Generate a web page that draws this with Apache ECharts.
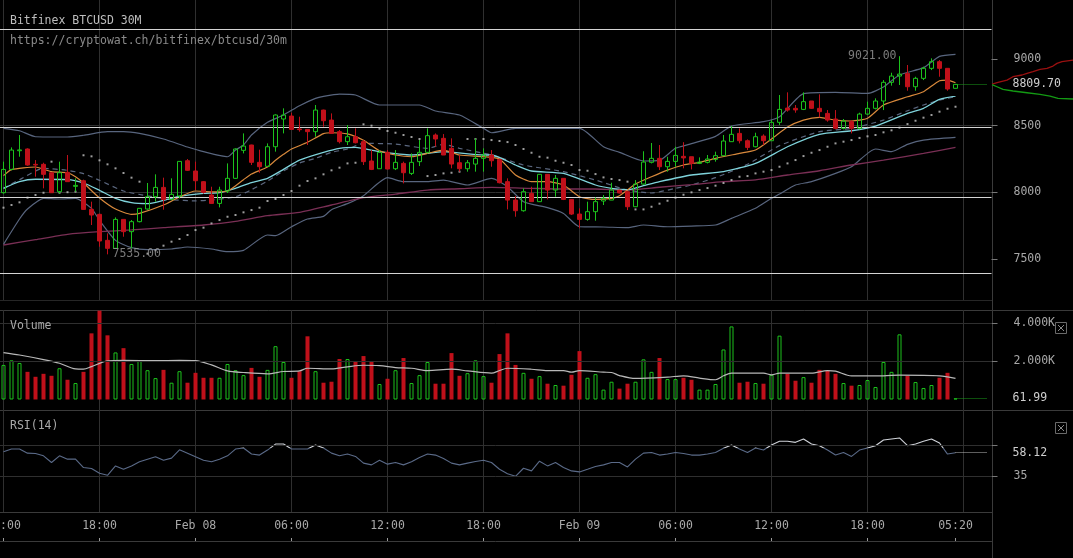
<!DOCTYPE html>
<html>
<head>
<meta charset="utf-8">
<script src="https://cdn.jsdelivr.net/npm/echarts@6/dist/echarts.min.js"></script>
<style>
html,body{margin:0;padding:0;background:#000;overflow:hidden;}
#c{width:1073px;height:558px;}
</style>
</head>
<body>
<div id="c"></div>
<script>
// ---------------- DATA ----------------
// 30-minute candles, Feb 07 12:00 .. Feb 09 23:30 (120 candles)
const opens = [
 7997,8172,8312,8325,8210,8210,8147,8005,8150,8045,
 8087,7872,7835,7640,7580,7797,7705,7780,7875,7967,
 8037,7947,7972,8237,8160,8080,7980,7917,8010,8105,
 8315,8355,8225,8195,8342,8550,8572,8475,8472,8455,
 8617,8542,8455,8380,8417,8380,8235,8177,8300,8177,
 8217,8142,8230,8300,8430,8405,8330,8222,8177,8212,
 8255,8280,8247,8080,7942,7862,7992,7930,8135,8017,
 8105,7947,7837,7797,7855,7935,7942,8017,8005,7892,
 8062,8225,8255,8192,8232,8270,8267,8217,8225,8247,
 8275,8380,8442,8387,8342,8422,8387,8525,8632,8630,
 8622,8685,8630,8592,8550,8480,8530,8480,8587,8630,
 8685,8825,8872,8892,8792,8855,8930,8980,8930,8780];
const closes = [
 8172,8317,8318,8205,8205,8135,7997,8147,8080,8052,
 7872,7830,7635,7580,7797,7705,7780,7880,7967,8037,
 7947,7985,8232,8165,8087,8000,7917,8017,8105,8325,
 8347,8225,8192,8342,8580,8580,8472,8470,8455,8617,
 8537,8442,8380,8417,8372,8230,8172,8300,8175,8225,
 8147,8225,8300,8425,8400,8280,8212,8177,8222,8255,
 8280,8237,8072,7942,7862,8005,7930,8135,8017,8105,
 7947,7837,7797,7855,7930,7955,8017,7995,7892,8062,
 8227,8255,8192,8232,8277,8258,8217,8227,8250,8275,
 8385,8435,8387,8337,8417,8387,8525,8622,8617,8618,
 8680,8630,8605,8542,8480,8535,8480,8587,8630,8685,
 8825,8872,8887,8792,8855,8930,8980,8930,8775,8809.70];
const lows = [
 7990,8165,8267,8200,8117,8030,7997,7992,8080,8005,
 7870,7755,7592,7535,7575,7667,7580,7775,7870,7930,
 7870,7940,7955,8160,8017,7990,7915,7887,7995,8100,
 8292,8205,8147,8190,8305,8442,8470,8455,8355,8417,
 8492,8440,8367,8355,8367,8205,8167,8177,8172,8167,
 8067,8130,8197,8292,8342,8280,8180,8155,8155,8155,
 8155,8192,8067,7872,7817,7855,7930,7928,7947,7967,
 7942,7830,7730,7787,7787,7905,7942,7992,7867,7890,
 8058,8217,8167,8155,8192,8180,8172,8212,8217,8230,
 8275,8380,8367,8317,8337,8355,8387,8505,8605,8597,
 8617,8625,8562,8530,8472,8472,8442,8472,8580,8622,
 8617,8800,8805,8762,8762,8842,8917,8867,8762,8778];
const highs = [
 8230,8337,8430,8330,8242,8222,8150,8230,8280,8105,
 8095,7930,7840,7692,7812,7797,7792,7882,8070,8135,
 8110,8105,8235,8250,8230,8085,8042,8042,8217,8330,
 8442,8357,8320,8367,8585,8630,8597,8567,8475,8655,
 8620,8592,8467,8505,8480,8392,8317,8317,8317,8317,
 8230,8292,8392,8480,8442,8437,8405,8280,8242,8405,
 8330,8317,8250,8105,7972,8030,8042,8137,8137,8130,
 8107,7950,7880,7930,7962,7980,8072,8020,8007,8092,
 8308,8370,8355,8267,8342,8376,8267,8262,8280,8305,
 8430,8497,8480,8397,8447,8435,8542,8730,8750,8655,
 8750,8685,8735,8617,8617,8550,8542,8597,8680,8705,
 8842,8897,9021,8955,8867,8942,9005,8992,8930,8812];
const volumes = [
 1819,2061,1922,1455,1195,1351,1247,1645,1039,866,
 1455,3481,4676,3377,2477,2702,1870,2044,1541,1126,
 1559,883,1490,883,1403,1143,1143,1143,1870,1541,
 1282,1663,1195,1559,2806,1974,1143,1490,3325,1490,
 883,935,2130,2130,2026,2286,1992,814,1091,1541,
 2182,866,1282,1974,831,831,2442,1247,1386,2061,
 1230,883,2390,3481,1819,1403,1091,1230,831,762,
 727,1299,2546,1143,1334,520,935,572,831,935,
 2113,1455,2182,1074,1074,1143,1039,520,520,814,
 2633,3845,883,935,866,831,1299,3360,1351,987,
 1178,883,1559,1507,1351,866,727,762,1022,658,
 1974,1455,3429,1247,918,606,762,1143,1403,61.99];
const rsi = [
 59,61.7,61.7,57.7,57.4,55.1,48.5,55.1,51.8,51.8,
 43.6,42.6,38,36,45.2,41.9,45.2,49.2,51.8,54.1,
 50.8,52.8,61,57.7,54.1,50.8,49.2,51.8,55.1,61.7,
 62.7,56.8,55.8,60.7,66.6,66.6,61.7,61.7,61.7,65.7,
 62.7,57.7,55.1,56.8,54.5,47.9,46.2,50.8,46.9,48.5,
 46.2,49.2,53.5,56.8,55.8,52.5,47.9,46.2,47.9,49.5,
 50.8,48.5,41.9,37.6,35,42.9,40.3,49.8,45.2,48.5,
 43.6,40.3,39.3,41.9,44.6,46.2,48.5,48.5,44.2,51.8,
 57.7,58.4,55.8,56.8,58.4,57.4,55.8,55.8,56.8,58.4,
 62.4,65.7,61.7,58.4,62.7,60.7,65.7,69.3,69.3,68.3,
 71.6,66.6,65,60.7,55.8,58.4,54.5,60.7,62.7,65,
 70.6,71.6,72.6,65,66.6,69.3,71.6,67.6,56.8,58.12];
// Parabolic SAR dots
const sar = [
 7885,7905,7925,7960,7980,7997,8230,7997,8001,8005,
 8278,8270,8240,8210,8180,8145,8110,8080,7540,7565,
 7600,7630,7650,7680,7717,7735,7767,7792,7817,7830,
 7850,7867,7885,7935,7950,7980,8010,8050,8085,8105,
 8135,8165,8185,8217,8222,8510,8500,8477,8460,8447,
 8430,8415,8400,8122,8130,8142,8147,8155,8400,8400,
 8400,8392,8385,8377,8355,8325,8297,8267,8260,8237,
 8222,8205,8167,8162,8137,8112,8100,8092,8080,7872,
 7872,7892,7915,7937,7960,7982,8000,8017,8032,8050,
 8070,8092,8117,8122,8142,8155,8167,8192,8217,8242,
 8272,8297,8317,8342,8367,8380,8392,8408,8420,8430,
 8450,8465,8485,8512,8537,8560,8580,8605,8627,8642];
// overlay lines, sampled [candle index, price]
const emaFast = [[0,8125],[1,8170],[4,8190],[6,8155],[8,8147],[9,8117],[10,8070],[12,7958],[14,7875],[16,7835],[17,7842],[20,7905],[22,7965],[24,8010],[26,8003],[28,8010],[30,8095],[31,8137],[33,8190],[34,8240],[35,8285],[36,8325],[38,8375],[40,8440],[41,8447],[43,8438],[45,8390],[47,8312],[49,8280],[51,8267],[53,8292],[55,8317],[57,8280],[60,8267],[62,8250],[64,8130],[66,8080],[68,8080],[70,8055],[72,7967],[74,7947],[76,7955],[77,7975],[79,8062],[81,8117],[83,8167],[85,8205],[87,8225],[89,8255],[92,8292],[94,8317],[96,8400],[98,8490],[100,8542],[102,8562],[104,8542],[106,8535],[108,8555],[110,8655],[113,8717],[115,8755],[117,8837],[118,8842],[119,8822]];
const emaSlow = [[0,8030],[2,8080],[4,8098],[8,8096],[10,8070],[12,8015],[14,7955],[16,7922],[18,7915],[20,7940],[22,7970],[25,7992],[27,7998],[29,8030],[31,8073],[33,8105],[35,8172],[37,8242],[40,8300],[42,8330],[44,8337],[47,8305],[51,8280],[55,8305],[60,8280],[61,8280],[64,8205],[66,8160],[70,8142],[74,8055],[76,8030],[78,8020],[80,8050],[82,8080],[86,8130],[90,8155],[94,8217],[98,8342],[102,8435],[106,8462],[109,8497],[113,8592],[115,8630],[117,8697],[119,8722]];
const bbMid = [[0,8030],[2,8095],[5,8180],[8,8165],[10,8140],[12,8090],[15,8010],[18,7973],[21,7945],[24,7936],[26,7942],[29,7967],[31,8020],[33,8085],[35,8160],[37,8220],[39,8255],[41,8300],[43,8325],[45,8367],[49,8362],[53,8330],[55,8360],[57,8330],[61,8280],[65,8205],[70,8155],[74,8092],[78,8017],[81,7995],[84,8030],[86,8055],[89,8110],[93,8210],[97,8350],[102,8455],[106,8480],[110,8542],[113,8612],[115,8655],[117,8692],[119,8717]];
const bbUpper = [[0,8480],[2,8462],[4,8417],[8,8415],[10,8428],[13,8455],[15,8455],[17,8442],[20,8400],[23,8340],[25,8305],[28,8267],[29,8317],[30,8355],[31,8430],[33,8525],[35,8580],[37,8650],[39,8705],[40,8720],[42,8737],[44,8730],[47,8655],[52,8655],[54,8610],[57,8580],[60,8480],[61,8447],[64,8480],[72,8480],[75,8342],[77,8300],[80,8235],[82,8240],[84,8330],[86,8365],[89,8420],[91,8497],[95,8530],[97,8567],[100,8740],[104,8750],[108,8742],[110,8790],[112,8880],[115,8935],[117,9020],[119,9035]];
const bbLower = [[0,7610],[2,7800],[3,7875],[5,7955],[7,7950],[9,7955],[11,7880],[12,7790],[14,7640],[16,7585],[18,7570],[21,7575],[23,7590],[26,7575],[28,7555],[30,7565],[33,7680],[34,7675],[36,7742],[38,7800],[40,7820],[41,7870],[43,7915],[45,7975],[48,8110],[50,8080],[53,8080],[55,8092],[58,8055],[61,8105],[63,8042],[65,7930],[68,7885],[70,7842],[72,7742],[75,7740],[78,7735],[80,7755],[83,7742],[86,7747],[89,7755],[91,7805],[94,7880],[96,7955],[97,7987],[99,8055],[101,8080],[104,8142],[106,8192],[109,8325],[111,8305],[113,8360],[115,8392],[119,8412]];
const maLong = [[0,7605],[4,7645],[8,7685],[12,7705],[16,7718],[20,7735],[25,7755],[29,7782],[33,7825],[37,7850],[41,7905],[45,7960],[49,7987],[53,8017],[57,8027],[61,8037],[66,8030],[70,8025],[74,8025],[78,8017],[82,8038],[86,8058],[90,8080],[94,8094],[98,8130],[102,8162],[106,8205],[110,8242],[115,8292],[119,8337]];
const volMA = [[0,2470],[2,2340],[5,2100],[7,1905],[9,1610],[10,1593],[11,1730],[13,2030],[15,2060],[19,2044],[22,2060],[24,2044],[26,1819],[28,1507],[30,1420],[33,1351],[35,1472],[37,1507],[38,1645],[41,1611],[43,1720],[45,1801],[47,1784],[49,1680],[51,1645],[53,1524],[56,1593],[58,1507],[61,1386],[62,1524],[63,1645],[66,1593],[68,1524],[70,1524],[71,1437],[72,1524],[75,1437],[76,1420],[77,1260],[79,1108],[83,1178],[85,1247],[87,1126],[89,1039],[90,1247],[91,1386],[95,1386],[96,1299],[97,1386],[101,1386],[103,1524],[104,1489],[106,1247],[110,1247],[112,1282],[117,1247],[119,1108]];
// horizontal level lines drawn on the price pane
const levelLines = [9225, 8487.5, 7962.5, 7392.5];
// order-book depth at the right edge: [cumulative size, price]
const askDepth = [[0,8812],[1,8817],[6,8825],[15,8842],[21,8867],[30,8880],[35,8892],[41,8905],[48,8922],[55,8930],[61,8947],[65,8967],[70,8980],[71,8992],[81,8992]];
const bidDepth = [[0,8808],[5,8792],[11,8772],[21,8760],[35,8747],[48,8735],[58,8722],[66,8705],[81,8700]];
// axis ticks / labels
const priceTicks = [7500, 8000, 8500, 9000];
const volTicks = [2000, 4000];
const rsiTicks = [35, 65];
const rsiLabels = [35];
const rsiHighlight = 63;   // RSI drawn lighter above this
const xTickLabels = ['12:00','18:00','Feb 08','06:00','12:00','18:00','Feb 09','06:00','12:00','18:00'];
const lastTimeLabel = '05:20';
const titleText = 'Bitfinex BTCUSD 30M';
const subTitleText = 'https://cryptowat.ch/bitfinex/btcusd/30m';

// ---------------- CHART ----------------
const SLOTS = 124;
const categories = Array.from({length: SLOTS}, (_, i) => String(i));
const last = closes.length - 1;
const MONO = '"DejaVu Sans Mono", "Liberation Mono", monospace';
const FS = 11.5;
const GRID_C = '#2f2f2f';
const GREEN = '#1cc21c';
const RED = '#c0101a';
const isUp = i => closes[i] >= opens[i];

const RSI_TOP = 410, RSI_H = 102;
const candleData = opens.map((o, i) => [o, closes[i], lows[i], highs[i]]);
const volData = volumes.map((v, i) => ({
  value: v,
  itemStyle: isUp(i) ? {color: 'rgba(0,0,0,0)', borderColor: GREEN, borderWidth: 1}
                     : {color: RED, borderColor: RED, borderWidth: 0}
}));
const sarData = sar.map((v, i) => [i, v]);
const hiIdx = highs.indexOf(Math.max(...highs));
const loIdx = lows.indexOf(Math.min(...lows));

const splitX = i => i % 12 === 0;
const labelX = i => (i % 12 === 0 && i < 120) || i === last;

function catAxis(gridIndex) {
  return {
    type: 'category', gridIndex, data: categories, boundaryGap: true,
    axisLine: {show: false}, axisTick: {show: false}, axisLabel: {show: false},
    splitLine: {show: true, interval: splitX, alignWithLabel: true, lineStyle: {color: GRID_C, width: 1}}
  };
}
const axisLabelStyle = {color: '#a8a8a8', fontFamily: MONO, fontSize: FS};

function curLine(xCat, val, color, text) {
  return [
    {coord: [categories[xCat], val], lineStyle: {type: 'dotted', color, width: 1},
     label: {show: true, position: 'end', distance: 25, formatter: text, color: '#cfcfcf', fontFamily: MONO, fontSize: FS}},
    {coord: [categories[SLOTS - 1], val]}
  ];
}
const hiOff = (100 - rsiHighlight) / 100;
const rsiColor = {type: 'linear', x: 0, y: RSI_TOP, x2: 0, y2: RSI_TOP + RSI_H, global: true,
  colorStops: [{offset: 0, color: '#cfd2d8'}, {offset: hiOff, color: '#cfd2d8'},
               {offset: hiOff, color: '#5a6a88'}, {offset: 1, color: '#5a6a88'}]};

const option = {
  backgroundColor: '#000',
  animation: false,
  title: [
    {text: titleText, subtext: subTitleText, left: 10, top: 14, padding: 0, itemGap: 6,
     textStyle: {color: '#bdbdbd', fontFamily: MONO, fontSize: FS, fontWeight: 'normal', lineHeight: 14},
     subtextStyle: {color: '#8a8a8a', fontFamily: MONO, fontSize: FS, lineHeight: 14}},
    {text: 'Volume', left: 10, top: 319, padding: 0,
     textStyle: {color: '#a8a8a8', fontFamily: MONO, fontSize: FS, fontWeight: 'normal', lineHeight: 14}},
    {text: 'RSI(14)', left: 10, top: 419, padding: 0,
     textStyle: {color: '#a8a8a8', fontFamily: MONO, fontSize: FS, fontWeight: 'normal', lineHeight: 14}}
  ],
  grid: [
    {left: -0.5, width: 992, top: 0, height: 300, outerBoundsMode: 'none'},
    {left: -0.5, width: 992, top: 310, height: 100, outerBoundsMode: 'none'},
    {left: -0.5, width: 992, top: RSI_TOP, height: RSI_H, outerBoundsMode: 'none'},
    {left: -0.5, width: 992, top: 512, height: 29, outerBoundsMode: 'none'},
    {left: 992, width: 81, top: 0, height: 300, outerBoundsMode: 'none'}
  ],
  xAxis: [
    catAxis(0), catAxis(1), catAxis(2),
    {type: 'category', gridIndex: 3, data: categories, boundaryGap: true, position: 'bottom',
     axisLine: {show: true, lineStyle: {color: '#3a3a3a'}},
     axisTick: {show: true, inside: true, length: 3, interval: labelX, alignWithLabel: true, lineStyle: {color: '#9a9a9a'}},
     axisLabel: {show: true, inside: true, margin: 9, interval: labelX,
       formatter: (v, idx) => idx === last ? lastTimeLabel : xTickLabels[idx / 12],
       color: '#a8a8a8', fontFamily: MONO, fontSize: FS},
     splitLine: {show: false}},
    {type: 'value', gridIndex: 4, min: 0, max: 81, show: false}
  ],
  yAxis: [
    {type: 'value', gridIndex: 0, position: 'right', min: 7192.5, max: 9442.5,
     axisLine: {show: false},
     axisTick: {show: true, customValues: priceTicks, length: 6, lineStyle: {color: '#777'}},
     axisLabel: Object.assign({customValues: priceTicks, margin: 22, formatter: v => String(v)}, axisLabelStyle),
     splitLine: {show: true, showMinLine: false, showMaxLine: false, lineStyle: {color: GRID_C}}},
    {type: 'value', gridIndex: 1, position: 'right', min: -553, max: 4710,
     axisLine: {show: false},
     axisTick: {show: true, customValues: volTicks, length: 6, lineStyle: {color: '#777'}},
     axisLabel: Object.assign({customValues: volTicks, margin: 22, formatter: v => (v / 1000).toFixed(3) + 'K'}, axisLabelStyle),
     splitLine: {show: false}},
    {type: 'value', gridIndex: 2, position: 'right', min: 0, max: 100,
     axisLine: {show: false},
     axisTick: {show: true, customValues: rsiTicks, length: 6, lineStyle: {color: '#777'}},
     axisLabel: Object.assign({customValues: rsiLabels, margin: 22, formatter: v => String(v)}, axisLabelStyle),
     splitLine: {show: false}},
    {type: 'value', gridIndex: 3, min: 0, max: 1, show: false},
    {type: 'value', gridIndex: 4, min: 7192.5, max: 9442.5, show: false}
  ],
  series: [
    {type: 'candlestick', xAxisIndex: 0, yAxisIndex: 0, data: candleData, barWidth: 4.5, z: 5,
     itemStyle: {color: 'rgba(0,0,0,0)', color0: RED, borderColor: GREEN, borderColor0: RED, borderWidth: 1},
     markLine: {silent: true, symbol: ['none', 'none'], animation: false,
       data: levelLines.map(v => ({yAxis: v, lineStyle: {color: '#d4d4d4', width: 1.2, type: 'solid'}, label: {show: false}}))
         .concat([curLine(last, closes[last], '#1a9e1a', closes[last].toFixed(2))])}},
    {type: 'line', xAxisIndex: 0, yAxisIndex: 0, data: bbUpper, showSymbol: false, smooth: 0.2, z: 2, lineStyle: {color: '#58657e', width: 1.2}},
    {type: 'line', xAxisIndex: 0, yAxisIndex: 0, data: bbLower, showSymbol: false, smooth: 0.2, z: 2, lineStyle: {color: '#58657e', width: 1.2}},
    {type: 'line', xAxisIndex: 0, yAxisIndex: 0, data: bbMid, showSymbol: false, smooth: 0.2, z: 2, lineStyle: {color: '#5b677f', width: 1.2, type: [5, 4]}},
    {type: 'line', xAxisIndex: 0, yAxisIndex: 0, data: maLong, showSymbol: false, smooth: 0.2, z: 2, lineStyle: {color: '#7a2f55', width: 1.3}},
    {type: 'line', xAxisIndex: 0, yAxisIndex: 0, data: emaSlow, showSymbol: false, smooth: 0.2, z: 3, lineStyle: {color: '#7fd3db', width: 1.3}},
    {type: 'line', xAxisIndex: 0, yAxisIndex: 0, data: emaFast, showSymbol: false, smooth: 0.2, z: 3, lineStyle: {color: '#d8893c', width: 1.2}},
    {type: 'scatter', xAxisIndex: 0, yAxisIndex: 0, data: sarData, symbol: 'rect', symbolSize: 2, z: 4,
     itemStyle: {color: '#c4c4c4'}},
    {type: 'scatter', xAxisIndex: 0, yAxisIndex: 0, symbolSize: 0, z: 6, silent: true,
     data: [
       {value: [hiIdx, highs[hiIdx]], label: {show: true, position: 'left', distance: 3, formatter: highs[hiIdx].toFixed(2)}},
       {value: [loIdx, lows[loIdx]], label: {show: true, position: 'right', distance: 5, formatter: lows[loIdx].toFixed(2)}}
     ],
     label: {color: '#9a9a9a', fontFamily: MONO, fontSize: FS}},
    {type: 'bar', xAxisIndex: 1, yAxisIndex: 1, data: volData, barWidth: 4, z: 3,
     markLine: {silent: true, symbol: ['none', 'none'], animation: false,
       data: volTicks.map(v => ({yAxis: v, lineStyle: {color: GRID_C, width: 1, type: 'solid'}, label: {show: false}}))
         .concat([curLine(last, volumes[last], '#1a9e1a', volumes[last].toFixed(2))])}},
    {type: 'line', xAxisIndex: 1, yAxisIndex: 1, data: volMA, showSymbol: false, smooth: 0.3, z: 4,
     lineStyle: {color: '#b8b8b8', width: 1.2}},
    {type: 'line', xAxisIndex: 2, yAxisIndex: 2, data: rsi, showSymbol: false, z: 4,
     lineStyle: {width: 1.1, color: rsiColor},
     markLine: {silent: true, symbol: ['none', 'none'], animation: false,
       data: rsiTicks.map(v => ({yAxis: v, lineStyle: {color: GRID_C, width: 1, type: 'solid'}, label: {show: false}}))
         .concat([curLine(last, rsi[last], '#bdbdbd', rsi[last].toFixed(2))])}},
    {type: 'line', xAxisIndex: 3, yAxisIndex: 3, data: [], showSymbol: false},
    {type: 'line', xAxisIndex: 4, yAxisIndex: 4, data: askDepth, showSymbol: false, lineStyle: {color: '#9a1010', width: 1.3}},
    {type: 'line', xAxisIndex: 4, yAxisIndex: 4, data: bidDepth, showSymbol: false, lineStyle: {color: '#139a13', width: 1.3}}
  ],
  graphic: [
    {type: 'line', silent: true, shape: {x1: 0, y1: 300.5, x2: 992, y2: 300.5}, style: {stroke: '#262626', lineWidth: 1}},
    {type: 'line', silent: true, shape: {x1: 0, y1: 310.5, x2: 1073, y2: 310.5}, style: {stroke: '#3a3a3a', lineWidth: 1}},
    {type: 'line', silent: true, shape: {x1: 0, y1: 410.5, x2: 1073, y2: 410.5}, style: {stroke: '#3a3a3a', lineWidth: 1}},
    {type: 'line', silent: true, shape: {x1: 0, y1: 512.5, x2: 992, y2: 512.5}, style: {stroke: '#3a3a3a', lineWidth: 1}},
    {type: 'line', silent: true, shape: {x1: 992.5, y1: 0, x2: 992.5, y2: 558}, style: {stroke: '#3a3a3a', lineWidth: 1}},
    {type: 'group', left: 1053, top: 320, silent: true, children: [
      {type: 'rect', shape: {x: 0.5, y: 0.5, width: 11, height: 11}, style: {fill: 'none', stroke: '#6a6a6a', lineWidth: 1}},
      {type: 'line', shape: {x1: 3, y1: 3, x2: 9, y2: 9}, style: {stroke: '#8a8a8a', lineWidth: 1}},
      {type: 'line', shape: {x1: 9, y1: 3, x2: 3, y2: 9}, style: {stroke: '#8a8a8a', lineWidth: 1}}
    ]},
    {type: 'group', left: 1053, top: 420, silent: true, children: [
      {type: 'rect', shape: {x: 0.5, y: 0.5, width: 11, height: 11}, style: {fill: 'none', stroke: '#6a6a6a', lineWidth: 1}},
      {type: 'line', shape: {x1: 3, y1: 3, x2: 9, y2: 9}, style: {stroke: '#8a8a8a', lineWidth: 1}},
      {type: 'line', shape: {x1: 9, y1: 3, x2: 3, y2: 9}, style: {stroke: '#8a8a8a', lineWidth: 1}}
    ]}
  ]
};

const chart = echarts.init(document.getElementById('c'), null, {renderer: 'canvas'});
chart.setOption(option);
</script>
</body>
</html>
